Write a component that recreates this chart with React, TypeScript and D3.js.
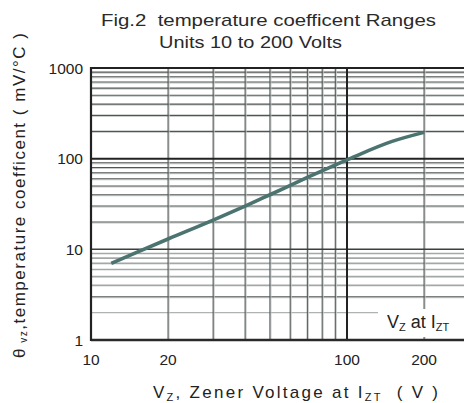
import React from "react";
import * as d3 from "d3";

const vzVolts = [12, 15, 20, 30, 40, 50, 70, 100, 150, 200];
const tempCoef = [7, 9.2, 13, 21, 30, 40, 62, 97, 155, 195];
const xTickValues = [10, 20, 100, 200];
const yTickValues = [1, 10, 100, 1000];
const xGridValues = [20, 30, 40, 50, 60, 70, 80, 90, 200];
const yGridDark = [3, 20, 30, 40, 50, 60, 70, 80, 90, 200, 300, 400, 500, 600, 700, 800, 900];
const yGridLight = [4, 5, 6, 7, 8, 9];

const W = 464;
const H = 403;
const FONT = "'Liberation Sans', Arial, Helvetica, sans-serif";

export default function App() {
  const x = d3.scaleLog().domain([10, 300]).range([91, 91 + 256 * Math.log10(30)]);
  const y = d3.scaleLog().domain([1, 1000]).range([340, 68]);
  const pts: [number, number][] = vzVolts.map((v, i) => [x(v), y(tempCoef[i])]);
  const line = d3.line().curve(d3.curveMonotoneX)(pts) || "";
  const left = x(10);
  const right = W + 10;
  const top = y(1000);
  const bottom = y(1);

  return (
    <svg width={W} height={H} style={{ position: "absolute", left: 0, top: 0, background: "#fff" }}>
      <rect x={0} y={0} width={W} height={H} fill="#fff" />
      {/* titles */}
      <text x={101} y={26} fontFamily={FONT} fontSize={17} fill="#2a2a2a" textLength={335} lengthAdjust="spacingAndGlyphs" style={{ whiteSpace: "pre" }}>
        {"Fig.2  temperature coefficent Ranges"}
      </text>
      <text x={159} y={48} fontFamily={FONT} fontSize={17} fill="#2a2a2a" textLength={183} lengthAdjust="spacingAndGlyphs">
        Units 10 to 200 Volts
      </text>

      {/* light grid */}
      {yGridLight.map((v) => (
        <line key={"yl" + v} x1={left} x2={right} y1={y(v)} y2={y(v)} stroke="#a3a8a7" strokeWidth={1.6} />
      ))}
      {/* dark grid */}
      {yGridDark.map((v) => (
        <g key={"yd" + v}>
          <line x1={left} x2={right} y1={y(v) + 1} y2={y(v) + 1} stroke="#c4c8c7" strokeWidth={1} />
          <line x1={left} x2={right} y1={y(v)} y2={y(v)} stroke="#4f5654" strokeWidth={1.1} />
        </g>
      ))}
      <line x1={left} x2={378} y1={y(2)} y2={y(2)} stroke="#9a9f9e" strokeWidth={1} />
      {xGridValues.map((v) => (
        <g key={"xg" + v}>
          <line x1={x(v) + 1} x2={x(v) + 1} y1={top} y2={bottom} stroke="#c4c8c7" strokeWidth={1} />
          <line x1={x(v)} x2={x(v)} y1={top} y2={bottom} stroke="#4f5654" strokeWidth={1.1} />
        </g>
      ))}
      {/* major lines */}
      <line x1={left} x2={right} y1={y(10)} y2={y(10)} stroke="#3a403f" strokeWidth={1.5} />
      <line x1={left} x2={right} y1={y(100)} y2={y(100)} stroke="#222" strokeWidth={2} />
      <line x1={x(100)} x2={x(100)} y1={top} y2={bottom} stroke="#222" strokeWidth={2} />

      {/* label box */}
      <rect x={380} y={309} width={90} height={28} fill="#fff" />
      <text x={387} y={328} fontFamily={FONT} fontSize={18} fill="#222">
        V<tspan fontSize={11} dy={3}>Z</tspan>
        <tspan dy={-3}> at I</tspan>
        <tspan fontSize={11} dy={3}>ZT</tspan>
      </text>

      {/* frame */}
      <line x1={left} x2={right} y1={top} y2={top} stroke="#222" strokeWidth={2.2} />
      <line x1={left} x2={right} y1={bottom} y2={bottom} stroke="#2a2a2a" strokeWidth={2.5} />
      <line x1={left} x2={left} y1={top - 1} y2={bottom + 1} stroke="#222" strokeWidth={2.2} />

      {/* curve */}
      <path d={line} fill="none" stroke="#4b7370" strokeWidth={3.6} strokeLinecap="butt" />

      {/* y tick labels */}
      {yTickValues.map((v) => (
        <text key={"yt" + v} x={83} y={y(v) + 5.5} textAnchor="end" fontFamily={FONT} fontSize={15.5} fill="#222">
          {v}
        </text>
      ))}
      {/* x tick labels */}
      {xTickValues.map((v) => (
        <text key={"xt" + v} x={x(v)} y={365} textAnchor="middle" fontFamily={FONT} fontSize={15.5} fill="#222">
          {v}
        </text>
      ))}

      {/* x title */}
      <text x={153} y={398} fontFamily={FONT} fontSize={17} fill="#222" textLength={285} lengthAdjust="spacing" style={{ whiteSpace: "pre" }}>
        V<tspan fontSize={11} dy={3}>Z</tspan>
        <tspan dy={-3}>, Zener Voltage at I</tspan>
        <tspan fontSize={11} dy={3}>ZT</tspan>
        <tspan dy={-3}>{"  ( V )"}</tspan>
      </text>

      {/* y title */}
      <text transform="translate(25,358) rotate(-90)" x={0} y={0} fontFamily={FONT} fontSize={17} fill="#222" textLength={325} lengthAdjust="spacing" style={{ whiteSpace: "pre" }}>
        θ<tspan fontSize={10} dy={2}> vz</tspan>
        <tspan dy={-2}>,temperature coefficent ( mV/°C )</tspan>
      </text>
    </svg>
  );
}
